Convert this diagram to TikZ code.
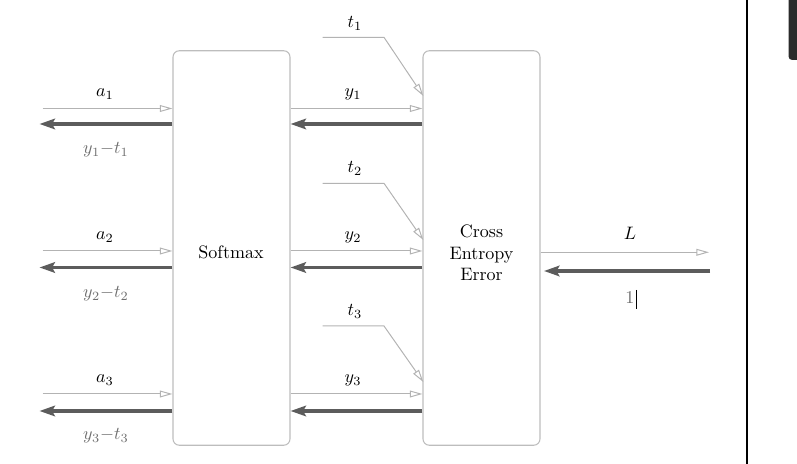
\documentclass[tikz,border=0pt]{standalone}
\usetikzlibrary{arrows.meta}
\definecolor{thinc}{HTML}{B3B3B3}
\definecolor{thickc}{HTML}{5C5C5C}
\definecolor{boxc}{HTML}{BDBDBD}
\definecolor{gradc}{HTML}{6E6E6E}
\definecolor{panel}{HTML}{2B2B2B}
\begin{document}
\begin{tikzpicture}[x=0.555pt,y=-0.555pt,
 box/.style={draw=boxc,line width=0.6pt,rounded corners=3.5pt,minimum width=117*0.555pt,minimum height=394.5*0.555pt,inner sep=0pt},
 thinarr/.style={draw=thinc,line width=0.55pt,-{Triangle[open,length=7pt,width=3.8pt]}},
 thickarr/.style={draw=thickc,line width=2.2pt,-{Stealth[length=8.5pt,width=5.8pt,inset=1.5pt]}},
 lab/.style={anchor=base,inner sep=0pt},
 glab/.style={lab,text=gradc}]
\useasboundingbox (0,0) rectangle (797,464);
% boxes
\node[box] (sm) at (231.5,248) {};
\node[box] (ce) at (481.5,248) {};
\node[lab] (smtext) at (231,258.3) {Softmax};
\node[align=center,inner sep=0pt] (cetext) at (481.5,253) {Cross\\Entropy\\Error};
% coordinates
\foreach \i/\yt/\yk/\yh/\yd in {1/108.5/124/37.3/96, 2/251/267.5/183.3/240, 3/394/411/326/382}{
  \coordinate (in\i) at (42.5,\yt);
  \coordinate (gout\i) at (39.5,\yk);
  \coordinate (ts\i) at (322.7,\yh);
  \coordinate (tk\i) at (384,\yh);
  \coordinate (te\i) at (423.3,\yd);
}
% rows
\foreach \i in {1,2,3}{
  \draw[thinarr] (in\i) -- (in\i -| sm.west);
  \draw[thickarr] (gout\i -| sm.west) -- (gout\i);
  \draw[thinarr] (in\i -| sm.east) -- (in\i -| ce.west);
  \draw[thickarr] (gout\i -| ce.west) -- (gout\i -| sm.east);
  \draw[thinarr] (ts\i) -- (tk\i) -- (te\i);
}
% labels
\node[lab] (la1) at (105,97) {$a_1$};
\node[lab] (la2) at (105,239.5) {$a_2$};
\node[lab] (la3) at (105,382.5) {$a_3$};
\node[glab] (lg1) at (106,154) {$y_1{-}t_1$};
\node[glab] (lg2) at (106,297.5) {$y_2{-}t_2$};
\node[glab] (lg3) at (106,439.5) {$y_3{-}t_3$};
\node[lab] (ly1) at (353,97) {$y_1$};
\node[lab] (ly2) at (353,239.5) {$y_2$};
\node[lab] (ly3) at (353,382.5) {$y_3$};
\node[lab] (lt1) at (355,27.8) {$t_1$};
\node[lab] (lt2) at (355,173) {$t_2$};
\node[lab] (lt3) at (355,316) {$t_3$};
% output side
\coordinate (Lend) at (709,252.3);
\coordinate (gin) at (710,271);
\coordinate (gend) at (544,271);
\draw[thinarr] (Lend -| ce.east) -- (Lend);
\draw[thickarr] (gin) -- (gend);
\node[lab] (lL) at (630,240) {$L$};
\node[glab] (lone) at (630,303.3) {1};
\draw[black,line width=0.5pt] (636,290) -- (636,309);
% viewer artefacts
\draw[black,line width=0.8pt] (747,0) -- (747,464);
\fill[panel,rounded corners=2pt] (788.5,-10) rectangle (815,60);
\end{tikzpicture}
\end{document}
